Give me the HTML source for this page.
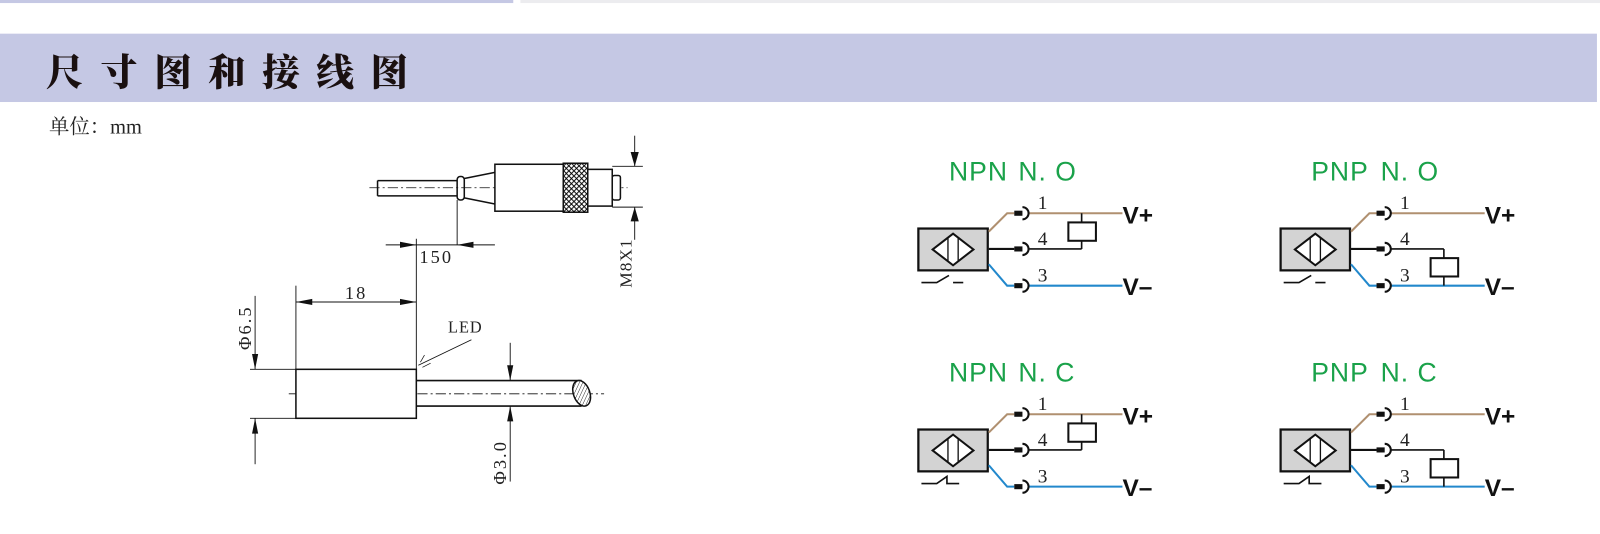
<!DOCTYPE html>
<html><head><meta charset="utf-8"><style>
html,body{margin:0;padding:0;background:#fff;width:1600px;height:534px;overflow:hidden}
svg{display:block}
</style></head><body>
<svg width="1600" height="534" viewBox="0 0 1568 523.4" preserveAspectRatio="none" xmlns="http://www.w3.org/2000/svg">
<defs>
<pattern id="knurl" width="5" height="5" patternUnits="userSpaceOnUse">
<rect width="5" height="5" fill="#fff"/>
<path d="M0 0L5 5M5 0L0 5" stroke="#000" stroke-width="0.9"/>
</pattern>
<pattern id="hatch" width="3" height="3" patternUnits="userSpaceOnUse" patternTransform="rotate(45)">
<rect width="3" height="3" fill="#fff"/><line x1="0" y1="0" x2="0" y2="3" stroke="#000" stroke-width="0.8"/>
</pattern>
<g id="sens">
<rect x="0" y="0" width="68" height="41" fill="#d3d3d3" stroke="#111" stroke-width="2.2"/>
<path d="M14 20.5L34 5L54 20.5L34 36Z" fill="#fff" stroke="#111" stroke-width="2"/>
<line x1="29" y1="9" x2="29" y2="32" stroke="#111" stroke-width="1.3"/>
<line x1="39" y1="9" x2="39" y2="32" stroke="#111" stroke-width="1.3"/>
</g>
<g id="conn">
<rect x="-8" y="-2.5" width="8" height="5" fill="#111"/>
<path d="M0 -6A6 6 0 0 1 0 6" fill="none" stroke="#111" stroke-width="2"/>
</g>
</defs>

<rect x="0" y="0" width="503" height="3" fill="#c5c8e4"/>
<rect x="510" y="0" width="1058" height="3" fill="#ececef"/>
<rect x="0" y="33" width="1565" height="67" fill="#c5c8e4"/>
<text x="45" y="84" font-family="'Noto Serif CJK SC','Noto Sans CJK SC',serif" font-weight="900" font-size="37" letter-spacing="16" fill="#1a1010">尺寸图和接线图</text>
<text x="48" y="131" font-family="'Liberation Serif','Noto Serif CJK SC',serif" font-size="20" fill="#222">单位：mm</text>

<!-- dimension drawing top -->
<g stroke="#111" fill="none" stroke-width="1.5" font-family="'Liberation Serif',serif">
<line x1="362" y1="184" x2="615" y2="184" stroke-dasharray="10,3,2,3" stroke-width="0.8"/>
<path d="M370 177H448M370 192H448" />
<line x1="370" y1="177" x2="370" y2="192"/>
<rect x="448" y="173" width="7" height="23" rx="3"/>
<path d="M455 175L485 169M455 194L485 200"/>
<rect x="485" y="161" width="67" height="46" fill="#fff"/>
<rect x="552" y="160" width="24" height="48" fill="url(#knurl)"/>
<rect x="576" y="166" width="24" height="36" fill="#fff"/>
<rect x="600" y="172" width="8" height="24" rx="2" fill="#fff"/>
<line x1="600" y1="163" x2="630" y2="163" stroke-width="0.9"/>
<line x1="600" y1="203" x2="630" y2="203" stroke-width="0.9"/>
<line x1="622" y1="133" x2="622" y2="163" stroke-width="0.9"/>
<line x1="622" y1="203" x2="622" y2="235" stroke-width="0.9"/>
<line x1="448" y1="196" x2="448" y2="240" stroke-width="0.9"/>
<line x1="408" y1="234" x2="408" y2="362" stroke-width="0.9"/>
<line x1="378" y1="240" x2="485" y2="240" stroke-width="0.9"/>
</g>
<g fill="#111">
<path d="M622 163L618 149L626 149Z"/><path d="M622 203L618 217L626 217Z"/>
<path d="M408 240L392 237L392 243Z"/><path d="M448 240L464 237L464 243Z"/>
</g>
<text x="411" y="258" font-family="'Liberation Serif',serif" font-size="18" fill="#222" letter-spacing="2">150</text>
<text transform="translate(619,282) rotate(-90)" font-family="'Liberation Serif',serif" font-size="17" fill="#222" letter-spacing="1">M8X1</text>

<!-- bottom drawing -->
<g stroke="#111" fill="none" stroke-width="1.5">
<line x1="283" y1="386" x2="592" y2="386" stroke-dasharray="10,3,2,3" stroke-width="0.8"/>
<rect x="290" y="362" width="118" height="48" fill="#fff"/>
<path d="M408 373H570M408 398H570"/>
<ellipse cx="570" cy="385.5" rx="8" ry="13" fill="url(#hatch)" transform="rotate(-20 570 385.5)"/>
<line x1="290" y1="280" x2="290" y2="362" stroke-width="0.9"/>
<line x1="290" y1="296" x2="408" y2="296" stroke-width="0.9"/>
<line x1="245" y1="362" x2="290" y2="362" stroke-width="0.9"/>
<line x1="245" y1="410" x2="290" y2="410" stroke-width="0.9"/>
<line x1="250" y1="290" x2="250" y2="362" stroke-width="0.9"/>
<line x1="250" y1="410" x2="250" y2="455" stroke-width="0.9"/>
<line x1="500" y1="336" x2="500" y2="373" stroke-width="0.9"/>
<line x1="500" y1="398" x2="500" y2="472" stroke-width="0.9"/>
<line x1="410" y1="358" x2="462" y2="333" stroke-width="0.9"/>
<line x1="412" y1="355" x2="416" y2="348" stroke-width="0.7"/>
<line x1="414" y1="360" x2="422" y2="356" stroke-width="0.7"/>
</g>
<g fill="#111">
<path d="M290 296L306 293L306 299Z"/><path d="M408 296L392 293L392 299Z"/>
<path d="M250 362L247 347L253 347Z"/><path d="M250 410L247 425L253 425Z"/>
<path d="M500 373L497 358L503 358Z"/><path d="M500 398L497 413L503 413Z"/>
</g>
<g font-family="'Liberation Serif',serif" fill="#222">
<text x="338" y="293" font-size="18" letter-spacing="2">18</text>
<text x="439" y="326" font-size="16" letter-spacing="1">LED</text>
<text transform="translate(246,343) rotate(-90)" font-size="18" letter-spacing="2">Φ6.5</text>
<text transform="translate(496,475) rotate(-90)" font-size="18" letter-spacing="2">Φ3.0</text>
</g>

<!-- wiring diagrams -->
<g font-family="'Liberation Sans',sans-serif">
<g transform="translate(900,224)">
<text x="30" y="-47" font-size="26" fill="#1aa24a" letter-spacing="1"><tspan>NPN</tspan><tspan x="98">N. O</tspan></text>
<use href="#sens"/>
<path d="M69 3L87 -15H94" stroke="#b09070" stroke-width="2" fill="none"/>
<path d="M69 20H94" stroke="#111" stroke-width="2" fill="none"/>
<path d="M69 35L87 56H94" stroke="#2288cc" stroke-width="2" fill="none"/>
<line x1="108" y1="-15" x2="200" y2="-15" stroke="#b09070" stroke-width="2"/>
<line x1="108" y1="20" x2="160" y2="20" stroke="#111" stroke-width="1.6"/>
<line x1="108" y1="56" x2="200" y2="56" stroke="#2288cc" stroke-width="2"/>
<use href="#conn" x="102" y="-15"/><use href="#conn" x="102" y="20"/><use href="#conn" x="102" y="56"/>
<path d="M160 -15V-6M160 12V20" stroke="#111" stroke-width="1.6"/>
<rect x="147" y="-6" width="27" height="18" fill="#fff" stroke="#111" stroke-width="2"/>
<path d="M3 53H18L30 46M34 53H44" stroke="#111" stroke-width="1.6" fill="none"/>
<g font-family="'Liberation Serif',serif" font-size="19" fill="#222"><text x="117" y="-19">1</text><text x="117" y="16">4</text><text x="117" y="52">3</text></g>
<text x="200" y="-5" font-size="24" font-weight="bold" fill="#111">V+</text>
<text x="200" y="65" font-size="24" font-weight="bold" fill="#111">V–</text>
</g>
<g transform="translate(1255,224)">
<text x="30" y="-47" font-size="26" fill="#1aa24a" letter-spacing="1"><tspan>PNP</tspan><tspan x="98">N. O</tspan></text>
<use href="#sens"/>
<path d="M69 3L87 -15H94" stroke="#b09070" stroke-width="2" fill="none"/>
<path d="M69 20H94" stroke="#111" stroke-width="2" fill="none"/>
<path d="M69 35L87 56H94" stroke="#2288cc" stroke-width="2" fill="none"/>
<line x1="108" y1="-15" x2="200" y2="-15" stroke="#b09070" stroke-width="2"/>
<line x1="108" y1="20" x2="160" y2="20" stroke="#111" stroke-width="1.6"/>
<line x1="108" y1="56" x2="200" y2="56" stroke="#2288cc" stroke-width="2"/>
<use href="#conn" x="102" y="-15"/><use href="#conn" x="102" y="20"/><use href="#conn" x="102" y="56"/>
<path d="M160 20V29M160 47V56" stroke="#111" stroke-width="1.6"/>
<rect x="147" y="29" width="27" height="18" fill="#fff" stroke="#111" stroke-width="2"/>
<path d="M3 53H18L30 46M34 53H44" stroke="#111" stroke-width="1.6" fill="none"/>
<g font-family="'Liberation Serif',serif" font-size="19" fill="#222"><text x="117" y="-19">1</text><text x="117" y="16">4</text><text x="117" y="52">3</text></g>
<text x="200" y="-5" font-size="24" font-weight="bold" fill="#111">V+</text>
<text x="200" y="65" font-size="24" font-weight="bold" fill="#111">V–</text>
</g>
<g transform="translate(900,421)">
<text x="30" y="-47" font-size="26" fill="#1aa24a" letter-spacing="1"><tspan>NPN</tspan><tspan x="98">N. C</tspan></text>
<use href="#sens"/>
<path d="M69 3L87 -15H94" stroke="#b09070" stroke-width="2" fill="none"/>
<path d="M69 20H94" stroke="#111" stroke-width="2" fill="none"/>
<path d="M69 35L87 56H94" stroke="#2288cc" stroke-width="2" fill="none"/>
<line x1="108" y1="-15" x2="200" y2="-15" stroke="#b09070" stroke-width="2"/>
<line x1="108" y1="20" x2="160" y2="20" stroke="#111" stroke-width="1.6"/>
<line x1="108" y1="56" x2="200" y2="56" stroke="#2288cc" stroke-width="2"/>
<use href="#conn" x="102" y="-15"/><use href="#conn" x="102" y="20"/><use href="#conn" x="102" y="56"/>
<path d="M160 -15V-6M160 12V20" stroke="#111" stroke-width="1.6"/>
<rect x="147" y="-6" width="27" height="18" fill="#fff" stroke="#111" stroke-width="2"/>
<path d="M3 53H18L28 46V53H40" stroke="#111" stroke-width="1.6" fill="none"/>
<g font-family="'Liberation Serif',serif" font-size="19" fill="#222"><text x="117" y="-19">1</text><text x="117" y="16">4</text><text x="117" y="52">3</text></g>
<text x="200" y="-5" font-size="24" font-weight="bold" fill="#111">V+</text>
<text x="200" y="65" font-size="24" font-weight="bold" fill="#111">V–</text>
</g>
<g transform="translate(1255,421)">
<text x="30" y="-47" font-size="26" fill="#1aa24a" letter-spacing="1"><tspan>PNP</tspan><tspan x="98">N. C</tspan></text>
<use href="#sens"/>
<path d="M69 3L87 -15H94" stroke="#b09070" stroke-width="2" fill="none"/>
<path d="M69 20H94" stroke="#111" stroke-width="2" fill="none"/>
<path d="M69 35L87 56H94" stroke="#2288cc" stroke-width="2" fill="none"/>
<line x1="108" y1="-15" x2="200" y2="-15" stroke="#b09070" stroke-width="2"/>
<line x1="108" y1="20" x2="160" y2="20" stroke="#111" stroke-width="1.6"/>
<line x1="108" y1="56" x2="200" y2="56" stroke="#2288cc" stroke-width="2"/>
<use href="#conn" x="102" y="-15"/><use href="#conn" x="102" y="20"/><use href="#conn" x="102" y="56"/>
<path d="M160 20V29M160 47V56" stroke="#111" stroke-width="1.6"/>
<rect x="147" y="29" width="27" height="18" fill="#fff" stroke="#111" stroke-width="2"/>
<path d="M3 53H18L28 46V53H40" stroke="#111" stroke-width="1.6" fill="none"/>
<g font-family="'Liberation Serif',serif" font-size="19" fill="#222"><text x="117" y="-19">1</text><text x="117" y="16">4</text><text x="117" y="52">3</text></g>
<text x="200" y="-5" font-size="24" font-weight="bold" fill="#111">V+</text>
<text x="200" y="65" font-size="24" font-weight="bold" fill="#111">V–</text>
</g>
</g>
</svg>
</body></html>
